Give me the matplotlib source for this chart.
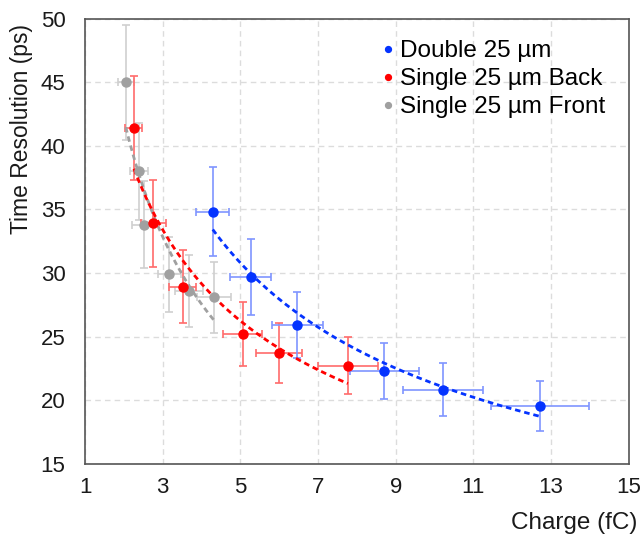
import numpy as np
import matplotlib
matplotlib.use('Agg')
import matplotlib.pyplot as plt

plt.rcParams['font.family'] = ['Liberation Sans', 'DejaVu Sans']

# valores
carga_double = [4.29, 5.27, 6.47, 8.71, 10.22, 12.72]
res_double = [34.8, 29.7, 25.9, 22.3, 20.8, 19.5]
xerr_double = [0.43, 0.53, 0.65, 0.88, 1.02, 1.27]
yerr_double = [3.5, 2.97, 2.6, 2.2, 2.08, 1.97]

carga_back = [2.26, 2.76, 3.52, 5.06, 6.00, 7.77]
res_back = [41.4, 33.9, 28.9, 25.2, 23.7, 22.7]
xerr_back = [0.22, 0.32, 0.35, 0.51, 0.6, 0.78]
yerr_back = [4.1, 3.4, 2.87, 2.5, 2.35, 2.25]

carga_front = [2.05, 2.39, 2.51, 3.17, 3.68, 4.32]
res_front = [45.0, 38.0, 33.8, 29.9, 28.6, 28.1]
xerr_front = [0.2, 0.24, 0.3, 0.3, 0.37, 0.44]
yerr_front = [4.5, 3.8, 3.4, 2.96, 2.85, 2.8]

nomes = ['Double 25 µm', 'Single 25 µm Back', 'Single 25 µm Front']
cores = ['#0433ff', '#ff0000', '#a0a0a0']
cores_erro = ['#7f95ff', '#ff6b6b', '#cfcfcf']

x_ticks = [1, 3, 5, 7, 9, 11, 13, 15]
y_ticks = [15, 20, 25, 30, 35, 40, 45, 50]

fig = plt.figure(figsize=(6.43, 5.37), dpi=100)
ax = fig.add_axes([0.1322, 0.1367, 0.8454, 0.8283])

series = [(carga_double, res_double, xerr_double, yerr_double),
          (carga_back, res_back, xerr_back, yerr_back),
          (carga_front, res_front, xerr_front, yerr_front)]

# desenha de tras pra frente (cinza embaixo)
for k in [2, 1, 0]:
    x, y, ex, ey = series[k]
    x = np.array(x)
    y = np.array(y)
    ax.errorbar(x, y, xerr=ex, yerr=ey, fmt='none', ecolor=cores_erro[k],
                elinewidth=1.2, capsize=3, capthick=1.2, zorder=2)
    # linha de tendencia (potencia)
    b, lna = np.polyfit(np.log(x), np.log(y), 1)
    xx = np.linspace(x.min(), x.max(), 200)
    ax.plot(xx, np.exp(lna) * xx ** b, color=cores[k], lw=2, ls=(0, (2.0, 1.4)),
            zorder=3)
    ax.plot(x, y, 'o', color=cores[k], markersize=6.5, label=nomes[k], zorder=4)

ax.set_xlim(1, 15)
ax.set_ylim(15, 50)
ax.set_xticks(x_ticks)
ax.set_yticks(y_ticks)
ax.tick_params(axis='both', length=0, labelsize=16, colors='#1a1a1a')
ax.tick_params(axis='x', pad=10)
ax.tick_params(axis='y', pad=14)
ax.grid(True, color='#dcdcdc', ls=(0, (4, 3)), lw=1)
ax.set_axisbelow(True)
for s in ax.spines.values():
    s.set_color('#555555')
    s.set_linewidth(1.2)

fig.text(0.033, 0.955, 'Time Resolution (ps)', rotation=90, ha='center', va='top',
         fontsize=16.5, color='#1a1a1a')
fig.text(0.991, 0.026, 'Charge (fC)', ha='right', va='center', fontsize=17.5,
         color='#1a1a1a')

h, l = ax.get_legend_handles_labels()
ordem = [l.index(n) for n in nomes]
ax.legend([h[i] for i in ordem], nomes, loc='upper left',
          bbox_to_anchor=(383 / 643, 1 - 40 / 537), bbox_transform=fig.transFigure,
          frameon=False, fontsize=17.5, markerscale=0.65, handlelength=0.4,
          handletextpad=0.28, labelspacing=0.25, borderpad=0, borderaxespad=0)

plt.savefig('out.png', dpi=100)
